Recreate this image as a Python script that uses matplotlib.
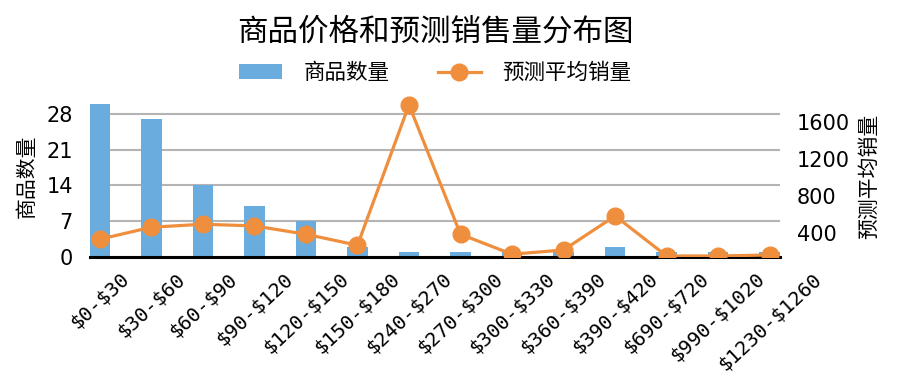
import matplotlib
matplotlib.use("Agg")
import matplotlib.pyplot as plt
import numpy as np

categories = ['$0-$30', '$30-$60', '$60-$90', '$90-$120', '$120-$150', '$150-$180',
              '$240-$270', '$270-$300', '$300-$330', '$360-$390', '$390-$420',
              '$690-$720', '$990-$1020', '$1230-$1260']
counts = [30, 27, 14, 10, 7, 2, 1, 1, 1, 1, 2, 1, 1, 1]
avg_sales = [332, 462, 494, 476, 386, 267, 1784, 386, 170, 216, 584, 151, 151, 162]
left_ticks = [0, 7, 14, 21, 28]
right_ticks = [400, 800, 1200, 1600]

plt.rcParams['font.family'] = ['DejaVu Sans', 'Noto Sans CJK SC']
CJK = ['Noto Sans CJK SC', 'DejaVu Sans']

BLUE = '#6AACDD'
ORANGE = '#EF8F3E'

fig = plt.figure(figsize=(8.99, 3.91), dpi=100)
ax1 = fig.add_axes([0.0996, 0.3427, 0.768, 0.412])
x = np.arange(len(categories))
bars = ax1.bar(x, counts, width=0.4, color=BLUE, label='商品数量', zorder=2)
ax1.set_xlim(-0.2, len(categories) - 1 + 0.2)
ax1.set_ylim(0, 31.5)
ax1.set_yticks(left_ticks)
ax1.set_axisbelow(True)
ax1.yaxis.grid(True, color='#b4b4b4', linewidth=1.5)
for s in ['top', 'right', 'left']:
    ax1.spines[s].set_visible(False)
ax1.spines['bottom'].set_linewidth(2.2)
ax1.spines['bottom'].set_color('black')
ax1.tick_params(axis='y', length=0, pad=12, labelsize=15)
ax1.tick_params(axis='x', length=0, pad=9)
ax1.set_xticks(x)
ax1.set_xticklabels([c.replace('$', r'\$') for c in categories], rotation=43,
                    ha='center', fontsize=14.5, family='DejaVu Sans Mono')
ax1.set_ylabel('商品数量', family=CJK, fontsize=15, labelpad=6)

ax2 = ax1.twinx()
line, = ax2.plot(x, avg_sales, color=ORANGE, linewidth=2.3, marker='o',
                 markersize=12, label='预测平均销量', zorder=3)
ax2.set_ylim(140, 1881)
ax2.set_yticks(right_ticks)
for s in ['top', 'right', 'left', 'bottom']:
    ax2.spines[s].set_visible(False)
ax2.tick_params(axis='y', length=0, pad=12, labelsize=15)
ax2.set_ylabel('预测平均销量', family=CJK, fontsize=15, labelpad=6)

fig.text(0.484, 0.918, '商品价格和预测销售量分布图', ha='center', va='center',
         fontsize=22, family=CJK)
fig.legend([bars, line], ['商品数量', '预测平均销量'], loc='center',
           bbox_to_anchor=(0.484, 0.813), ncol=2, frameon=False,
           prop={'family': CJK, 'size': 15.5}, handlelength=2.0, columnspacing=2.25,
           handletextpad=1.0)

fig.savefig('out.png', dpi=100)
